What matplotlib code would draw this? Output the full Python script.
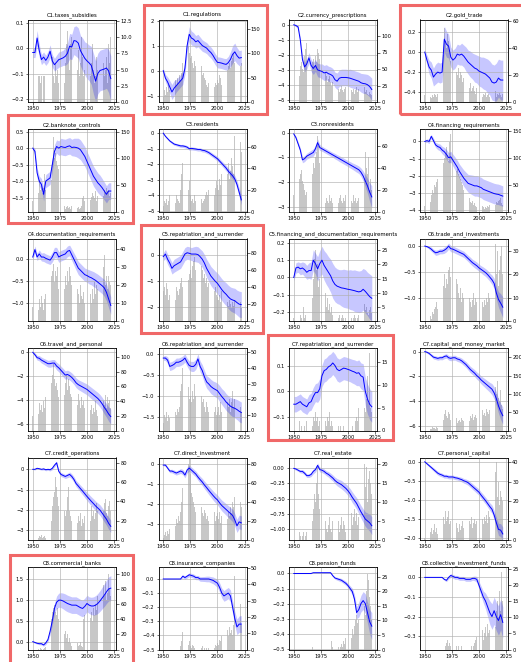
import numpy as np
import matplotlib
matplotlib.use("Agg")
import matplotlib.pyplot as plt
from matplotlib.patches import Rectangle

TITLES = ["C1.taxes_subsidies", "C1.regulations", "C2.currency_prescriptions", "C2.gold_trade",
          "C2.banknote_controls", "C3.residents", "C3.nonresidents", "C4.financing_requirements",
          "C4.documentation_requirements", "C5.repatriation_and_surrender",
          "C5.financing_and_documentation_requirements", "C6.trade_and_investments",
          "C6.travel_and_personal", "C6.repatriation_and_surrender", "C7.repatriation_and_surrender",
          "C7.capital_and_money_market", "C7.credit_operations", "C7.direct_investment",
          "C7.real_estate", "C7.personal_capital", "C8.commercial_banks", "C8.insurance_companies",
          "C8.pension_funds", "C8.collective_investment_funds"]

LINE_START = 1950   # line estimates every 2 years
BAR_START = 1950    # bars yearly

LINE_01 = [-0.017,-0.017,0.04,-0.01,-0.045,-0.035,-0.048,-0.035,-0.012,-0.05,-0.065,-0.055,-0.045,-0.042,-0.038,-0.032,-0.02,0.008,0.005,0.03,0.028,0.02,-0.01,-0.025,-0.04,-0.05,-0.058,-0.068,-0.1,-0.13,-0.1,-0.088,-0.085,-0.082,-0.078,-0.09,-0.12]
BAND_01 = [0.02,0.02,0.03,0.025,0.02,0.02,0.02,0.022,0.025,0.025,0.025,0.028,0.03,0.03,0.03,0.035,0.04,0.05,0.05,0.055,0.06,0.06,0.06,0.065,0.065,0.07,0.07,0.075,0.08,0.08,0.08,0.08,0.08,0.08,0.08,0.085,0.09]
BARS_01 = [0,4.5,4.5,4,0,4,4,3,4,0, 4,4,0,3,4,4,4,0,7,4, 3,6,4,5,3,4,6,4,5,3, 6,9,11,8,5,9,10,6,8,11, 7,5,8,4,6,10,7,4,5,6, 5,3,8,4,6,9,5,3,4,7, 5,6,4,8,11,6,4,5,7,3, 9,6,10]

LINE_02 = [0.0,-0.3,-0.45,-0.65,-0.85,-0.7,-0.6,-0.5,-0.4,-0.3,0.1,1.0,1.45,1.3,1.25,1.15,1.2,1.1,1.0,0.95,0.9,0.8,0.72,0.6,0.45,0.33,0.32,0.3,0.27,0.25,0.32,0.45,0.65,0.75,0.6,0.5,0.52]
BAND_02 = [0.1,0.15,0.2,0.25,0.3,0.3,0.25,0.25,0.25,0.25,0.25,0.3,0.3,0.28,0.26,0.25,0.25,0.24,0.23,0.22,0.22,0.22,0.22,0.22,0.22,0.22,0.22,0.22,0.22,0.23,0.25,0.3,0.35,0.35,0.32,0.3,0.3]
BARS_02 = [10,25,15,30,20,35,25,15,30,40, 30,45,35,50,40,55,45,60,80,75, 90,130,140,115,100,90,95,80,70,85, 75,60,80,70,65,75,55,60,50,45, 35,30,40,25,30,35,20,30,40,35, 45,40,55,50,35,45,60,55,70,65, 75,80,70,85,90,100,80,75,85,70, 90,75,80]

LINE_03 = [0.0,-0.05,-0.15,-1.0,-2.3,-2.8,-2.6,-2.2,-2.7,-2.9,-2.7,-3.0,-3.05,-3.1,-3.2,-3.15,-3.25,-3.3,-3.4,-3.65,-3.75,-3.55,-3.5,-3.5,-3.5,-3.52,-3.55,-3.6,-3.65,-3.7,-3.75,-3.85,-3.9,-3.92,-3.98,-4.1,-4.3]
BAND_03 = [0.05,0.08,0.1,0.2,0.3,0.3,0.35,0.35,0.4,0.4,0.4,0.45,0.45,0.5,0.5,0.5,0.5,0.5,0.5,0.5,0.55,0.55,0.55,0.55,0.55,0.55,0.6,0.6,0.6,0.6,0.6,0.62,0.65,0.65,0.68,0.7,0.75]
BARS_03 = [0,2,3,5,8,40,55,60,50,45, 70,80,90,100,110,85,75,60,65,55, 70,60,80,75,65,50,45,40,35,45, 40,30,35,40,30,25,30,35,25,20, 25,20,15,20,25,18,15,20,22,18, 15,20,25,18,15,20,12,18,22,15, 20,25,18,15,20,22,15,18,12,10, 15,12,10]

LINE_04 = [0.0,-0.08,-0.15,-0.18,-0.25,-0.22,-0.2,-0.21,-0.2,0.13,0.08,0.06,-0.05,-0.08,-0.06,-0.02,-0.03,-0.02,-0.04,-0.07,-0.1,-0.12,-0.14,-0.16,-0.17,-0.19,-0.2,-0.21,-0.22,-0.24,-0.26,-0.3,-0.31,-0.3,-0.26,-0.28,-0.28]
BAND_04 = [0.03,0.05,0.07,0.08,0.09,0.1,0.1,0.1,0.1,0.13,0.13,0.12,0.1,0.1,0.1,0.1,0.1,0.11,0.11,0.12,0.12,0.13,0.13,0.14,0.14,0.15,0.15,0.16,0.16,0.17,0.17,0.18,0.18,0.19,0.19,0.2,0.2]
BARS_04 = [5,4,3,5,6,4,3,5,4,6, 5,4,6,5,8,10,20,35,55,45, 40,50,45,38,30,35,28,25,30,22, 20,25,18,22,20,15,18,12,15,10, 12,10,14,8,10,12,8,6,10,8, 6,5,8,4,6,5,7,4,5,6, 4,5,6,3,5,8,4,6,5,7, 5,4,6]

LINE_05 = [0.0,-0.1,-0.75,-1.0,-1.1,-1.4,-1.0,-0.95,-0.9,-0.5,-0.1,0.05,0.0,0.05,0.03,0.02,0.05,0.07,0.02,0.03,0.02,0.0,-0.05,-0.15,-0.25,-0.4,-0.55,-0.7,-0.85,-0.95,-1.05,-1.12,-1.2,-1.3,-1.4,-1.3,-1.3]
BAND_05 = [0.05,0.1,0.15,0.15,0.18,0.2,0.2,0.2,0.2,0.2,0.2,0.2,0.22,0.25,0.25,0.25,0.25,0.25,0.25,0.27,0.28,0.3,0.3,0.3,0.3,0.3,0.3,0.3,0.3,0.3,0.3,0.3,0.28,0.27,0.26,0.25,0.25]
BARS_05 = [20,15,30,45,25,35,60,40,50,35, 45,70,40,55,50,35,45,60,90,140, 100,110,95,85,80,15,10,8,12,10, 5,8,10,6,8,5,10,7,5,8, 10,6,8,5,7,10,25,30,20,35, 25,30,40,22,28,35,30,25,38,20, 30,25,35,28,22,30,40,35,45,38, 40,30,35]

LINE_06 = [0,-0.2,-0.35,-0.5,-0.6,-0.7,-0.74,-0.78,-0.82,-0.82,-0.85,-0.9,-1.0,-0.98,-1.0,-1.02,-1.05,-1.05,-1.1,-1.12,-1.18,-1.25,-1.35,-1.45,-1.55,-1.65,-1.8,-1.95,-2.1,-2.25,-2.45,-2.6,-2.75,-2.95,-3.3,-3.8,-4.3]
BAND_06 = [0.02,0.05,0.06,0.07,0.08,0.08,0.08,0.09,0.09,0.1,0.1,0.1,0.1,0.1,0.1,0.1,0.1,0.1,0.11,0.11,0.12,0.12,0.13,0.13,0.14,0.15,0.15,0.16,0.17,0.18,0.19,0.2,0.2,0.22,0.25,0.28,0.32]
BARS_06 = [5,10,8,12,6,10,15,8,12,6, 10,8,15,12,10,8,20,35,45,30, 25,40,30,20,28,15,10,12,8,15, 10,12,8,10,15,12,8,10,12,15, 18,15,20,22,18,25,20,15,22,28, 25,20,30,25,35,28,40,25,30,35, 45,30,38,50,42,35,70,55,60,72, 75,65,55]

LINE_07 = [-0.05,-0.2,-0.45,-0.7,-1.1,-1.05,-0.95,-0.9,-0.85,-0.8,-0.65,-0.4,-0.6,-0.65,-0.7,-0.75,-0.8,-0.85,-0.9,-0.95,-1.0,-1.05,-1.1,-1.15,-1.2,-1.25,-1.3,-1.35,-1.4,-1.45,-1.5,-1.6,-1.75,-1.95,-2.15,-2.4,-2.6]
BAND_07 = [0.04,0.06,0.08,0.1,0.12,0.12,0.12,0.13,0.14,0.15,0.15,0.15,0.12,0.1,0.1,0.1,0.1,0.1,0.1,0.11,0.11,0.12,0.12,0.12,0.12,0.12,0.13,0.13,0.14,0.15,0.15,0.17,0.2,0.25,0.3,0.38,0.45]
BARS_07 = [15,20,25,18,22,30,35,38,28,25, 20,15,18,12,15,20,25,35,45,40, 50,55,70,60,45,25,15,12,10,8, 12,10,8,15,10,12,8,10,20,12, 10,8,12,15,10,8,12,10,15,12, 10,8,12,10,8,15,10,12,8,10, 12,15,25,35,45,30,55,40,35,50, 20,30,20]

LINE_08 = [0.0,0.05,0.0,0.3,0.05,-0.2,-0.3,-0.35,-0.5,-0.6,-0.75,-0.95,-0.9,-1.1,-1.3,-1.5,-1.75,-1.95,-2.15,-2.3,-2.45,-2.5,-2.55,-2.6,-2.6,-2.65,-2.7,-2.8,-2.85,-2.9,-2.95,-3.0,-3.05,-3.08,-3.1,-3.15,-3.2]
BAND_08 = [0.08,0.1,0.12,0.12,0.15,0.15,0.18,0.2,0.22,0.25,0.28,0.3,0.32,0.35,0.38,0.4,0.42,0.45,0.48,0.5,0.52,0.55,0.58,0.6,0.6,0.6,0.6,0.6,0.6,0.6,0.6,0.6,0.6,0.6,0.6,0.6,0.6]
BARS_08 = [10,15,20,12,25,18,30,40,35,50, 45,55,60,50,65,70,80,90,100,110, 120,105,95,130,145,110,95,85,90,75, 80,70,65,60,55,50,40,35,30,25, 20,25,18,15,20,12,15,10,8,12, 10,8,6,10,8,5,8,6,10,8, 12,10,8,15,10,12,18,15,20,22, 25,15,12]

LINE_09 = [0.05,0.22,0.05,0.12,0.05,0.05,0.02,0.0,-0.02,0.05,0.15,0.15,0.05,0.08,0.1,0.12,0.18,0.2,0.1,0.0,-0.1,-0.2,-0.25,-0.3,-0.35,-0.37,-0.4,-0.42,-0.45,-0.48,-0.52,-0.56,-0.6,-0.65,-0.75,-0.9,-1.05]
BAND_09 = [0.06,0.08,0.08,0.09,0.09,0.1,0.1,0.1,0.1,0.11,0.12,0.12,0.12,0.12,0.12,0.12,0.12,0.12,0.13,0.14,0.15,0.15,0.15,0.15,0.15,0.15,0.16,0.16,0.17,0.17,0.18,0.18,0.18,0.19,0.19,0.2,0.2]
BARS_09 = [8,12,5,15,10,6,12,8,14,10, 6,12,15,8,10,14,20,25,28,32, 22,28,25,30,18,25,20,15,22,18, 25,20,28,22,30,25,20,18,22,15, 12,18,15,10,20,14,12,16,10,18, 14,12,20,15,10,18,12,22,15,20, 18,12,25,20,15,30,37,20,25,18, 25,22,20]

LINE_10 = [-0.05,0.05,-0.15,-0.3,-0.5,-0.4,-0.35,-0.3,-0.25,-0.1,0.05,0.1,0.08,0.05,0.05,0.05,0.03,-0.05,-0.15,-0.3,-0.5,-0.65,-0.8,-0.9,-1.0,-1.08,-1.2,-1.32,-1.42,-1.5,-1.6,-1.68,-1.72,-1.75,-1.82,-1.88,-1.9]
BAND_10 = [0.15,0.18,0.2,0.2,0.22,0.25,0.25,0.25,0.25,0.25,0.25,0.25,0.25,0.25,0.28,0.3,0.3,0.3,0.32,0.33,0.35,0.36,0.37,0.38,0.39,0.4,0.41,0.42,0.43,0.44,0.45,0.46,0.47,0.48,0.48,0.5,0.5]
BARS_10 = [35,40,30,45,38,25,30,20,35,28, 30,25,40,35,30,38,45,50,40,55, 45,50,40,48,55,60,50,65,70,75, 60,70,80,85,75,65,60,50,55,45, 50,40,45,35,40,38,30,35,40,30, 28,25,30,22,35,25,20,28,25,22, 18,25,20,15,22,18,25,12,20,15, 18,22,15]

LINE_11 = [0.0,0.055,0.06,0.05,0.055,0.045,0.03,0.04,0.04,0.1,0.08,0.05,0.08,0.1,0.07,0.05,0.03,0.01,-0.02,-0.04,-0.05,-0.055,-0.06,-0.062,-0.065,-0.068,-0.07,-0.073,-0.076,-0.08,-0.083,-0.08,-0.068,-0.08,-0.095,-0.11,-0.12]
BAND_11 = [0.02,0.03,0.03,0.035,0.035,0.04,0.04,0.045,0.05,0.06,0.06,0.07,0.075,0.08,0.085,0.09,0.09,0.095,0.1,0.1,0.1,0.1,0.105,0.11,0.11,0.11,0.115,0.115,0.12,0.12,0.12,0.12,0.12,0.125,0.125,0.13,0.13]
BARS_11 = [1,0,2,1,3,0,2,1,0,5, 1,2,0,3,1,2,4,8,15,22, 25,18,20,12,15,10,8,12,6,10, 5,8,4,6,3,5,2,4,1,3, 2,1,2,0,1,2,1,0,1,2, 1,0,2,1,0,1,2,1,0,1, 2,3,4,3,5,6,4,5,3,2, 4,5,3]

LINE_12 = [0.0,-0.01,-0.03,-0.06,-0.1,-0.13,-0.12,-0.1,-0.1,-0.08,-0.05,0.0,-0.05,-0.06,-0.08,-0.1,-0.12,-0.14,-0.16,-0.2,-0.24,-0.28,-0.32,-0.35,-0.38,-0.42,-0.45,-0.48,-0.51,-0.55,-0.6,-0.65,-0.72,-0.9,-1.03,-1.1,-1.18]
BAND_12 = [0.01,0.02,0.03,0.04,0.04,0.05,0.05,0.05,0.05,0.06,0.06,0.06,0.06,0.06,0.06,0.06,0.06,0.06,0.06,0.06,0.06,0.065,0.065,0.07,0.07,0.07,0.07,0.075,0.075,0.08,0.08,0.09,0.1,0.12,0.15,0.18,0.2]
BARS_12 = [0,1,2,1,3,2,1,4,3,5, 6,8,5,10,7,9,12,15,20,14, 18,16,22,23,19,12,15,10,14,18, 16,12,10,14,8,12,10,8,11,9, 7,10,8,6,9,12,7,10,8,6, 9,7,10,8,6,9,7,10,8,12, 10,15,12,18,25,33,20,30,15,22, 28,32,20]

LINE_13 = [0.0,-0.2,-0.45,-0.5,-0.65,-0.75,-0.85,-0.95,-0.95,-0.9,-0.9,-1.15,-1.3,-1.5,-1.7,-1.9,-1.85,-1.95,-2.1,-2.3,-2.55,-2.7,-2.8,-2.9,-3.0,-3.1,-3.25,-3.4,-3.55,-3.7,-3.85,-4.05,-4.3,-4.6,-4.85,-5.15,-5.37]
BAND_13 = [0.1,0.15,0.2,0.22,0.25,0.25,0.27,0.28,0.3,0.3,0.3,0.32,0.33,0.34,0.35,0.35,0.36,0.37,0.38,0.39,0.4,0.41,0.42,0.43,0.44,0.45,0.46,0.47,0.48,0.49,0.5,0.52,0.54,0.55,0.57,0.6,0.62]
BARS_13 = [20,35,25,40,30,22,38,28,35,25, 40,30,45,35,50,38,55,65,75,90, 70,60,65,55,45,60,50,40,55,48, 65,75,55,70,60,50,45,55,40,50, 45,35,50,40,30,45,35,40,30,35, 25,30,38,28,35,22,30,25,40,28, 20,35,25,30,45,40,35,48,30,45, 38,42,30]

LINE_14 = [-0.1,-0.1,-0.15,-0.3,-0.28,-0.25,-0.2,-0.2,-0.18,-0.15,-0.1,-0.2,-0.28,-0.3,-0.3,-0.25,-0.12,-0.3,-0.4,-0.55,-0.67,-0.72,-0.78,-0.82,-0.85,-0.88,-0.95,-1.02,-1.08,-1.15,-1.2,-1.25,-1.28,-1.3,-1.33,-1.37,-1.4]
BAND_14 = [0.05,0.06,0.08,0.1,0.1,0.1,0.1,0.1,0.1,0.1,0.1,0.1,0.11,0.12,0.12,0.12,0.12,0.13,0.14,0.15,0.15,0.16,0.17,0.17,0.18,0.18,0.19,0.19,0.2,0.2,0.2,0.21,0.22,0.23,0.24,0.25,0.25]
BARS_14 = [5,10,8,12,6,10,8,12,15,10, 8,12,10,14,12,15,25,30,40,50, 35,30,25,28,20,22,18,25,20,30, 22,18,25,20,15,22,18,20,15,12, 18,15,12,20,15,10,18,12,15,10, 12,15,10,18,12,20,15,12,22,18, 15,20,12,18,25,15,20,22,18,15, 20,15,12]

LINE_15 = [-0.05,-0.05,-0.045,-0.04,-0.05,-0.055,-0.06,-0.045,-0.04,-0.02,-0.005,-0.005,0.01,0.06,0.08,0.085,0.095,0.1,0.11,0.1,0.085,0.08,0.085,0.09,0.088,0.085,0.082,0.078,0.075,0.07,0.072,0.06,0.055,0.0,-0.03,-0.05,-0.06]
BAND_15 = [0.03,0.03,0.03,0.03,0.03,0.03,0.03,0.032,0.033,0.035,0.035,0.038,0.04,0.042,0.045,0.045,0.045,0.045,0.045,0.045,0.045,0.045,0.045,0.045,0.045,0.045,0.045,0.046,0.047,0.048,0.05,0.05,0.052,0.055,0.058,0.06,0.06]
BARS_15 = [0,0,1,0,0,2,0,1,0,0, 1,0,2,1,2,0,2,1,3,2, 4,2,3,1,2,3,2,5,3,2, 1,3,2,4,1,2,1,0,1,2, 0,1,0,1,0,0,1,0,0,1, 0,0,1,0,1,0,0,2,3,2, 5,4,6,3,8,5,4,7,12,6, 17,5,4]

LINE_16 = [0.0,-0.05,-0.15,-0.3,-0.45,-0.5,-0.55,-0.5,-0.5,-0.4,-0.35,-0.5,-0.55,-0.5,-0.5,-0.6,-0.65,-0.75,-0.9,-1.05,-1.25,-1.45,-1.6,-1.75,-1.95,-2.1,-2.3,-2.45,-2.6,-2.75,-2.9,-3.05,-3.35,-3.8,-4.4,-4.85,-5.2]
BAND_16 = [0.05,0.08,0.1,0.12,0.15,0.15,0.15,0.16,0.17,0.18,0.18,0.19,0.2,0.2,0.2,0.2,0.21,0.22,0.23,0.24,0.25,0.26,0.27,0.28,0.29,0.3,0.32,0.34,0.36,0.38,0.4,0.45,0.5,0.55,0.6,0.65,0.7]
BARS_16 = [0,2,5,3,8,5,4,10,6,8, 5,10,8,12,10,15,20,30,45,55, 40,35,50,45,30,25,20,30,25,35, 20,25,30,22,35,28,25,30,40,35, 30,25,40,35,45,30,38,42,35,50, 40,45,35,55,42,48,40,60,50,45, 55,60,70,130,140,120,100,135,90,80, 110,70,60]

LINE_17 = [0.0,0.0,0.05,0.03,0.0,0.02,-0.02,0.0,-0.02,0.05,0.2,0.32,-0.1,-0.25,-0.3,-0.35,-0.3,-0.25,-0.35,-0.5,-0.7,-0.82,-0.95,-1.07,-1.2,-1.33,-1.45,-1.57,-1.68,-1.8,-1.9,-2.0,-2.15,-2.3,-2.45,-2.65,-2.8]
BAND_17 = [0.02,0.03,0.03,0.04,0.04,0.05,0.05,0.05,0.06,0.07,0.08,0.08,0.09,0.1,0.1,0.1,0.11,0.12,0.13,0.14,0.15,0.16,0.17,0.18,0.19,0.2,0.21,0.22,0.23,0.24,0.25,0.26,0.27,0.28,0.29,0.3,0.3]
BARS_17 = [0,2,0,10,3,2,4,3,5,2, 3,4,2,5,3,4,10,20,35,45, 50,65,55,45,35,30,40,25,35,30, 25,30,45,55,30,25,20,30,25,28, 22,18,25,20,28,15,22,18,25,20, 30,25,28,20,35,25,30,22,28,38, 30,35,25,45,40,30,38,42,28,25, 35,40,30]

LINE_18 = [-0.05,-0.05,-0.2,-0.35,-0.35,-0.4,-0.45,-0.4,-0.35,-0.4,-0.55,-0.3,-0.2,-0.3,-0.4,-0.5,-0.65,-0.78,-0.9,-1.05,-1.18,-1.32,-1.45,-1.58,-1.7,-1.8,-1.95,-2.08,-2.18,-2.28,-2.38,-2.48,-2.58,-2.8,-3.1,-2.9,-2.95]
BAND_18 = [0.04,0.05,0.07,0.08,0.09,0.1,0.1,0.11,0.12,0.13,0.14,0.15,0.15,0.15,0.15,0.15,0.16,0.17,0.18,0.19,0.2,0.21,0.22,0.23,0.24,0.25,0.26,0.27,0.28,0.29,0.3,0.3,0.31,0.32,0.33,0.34,0.35]
BARS_18 = [2,5,8,4,10,6,12,15,10,18, 20,15,22,18,25,20,30,40,55,60, 70,65,75,80,85,70,50,45,40,35, 30,35,25,40,30,35,28,25,32,28, 22,25,20,28,18,25,22,30,20,25, 28,22,30,18,25,35,20,28,25,22, 30,25,35,28,40,35,45,50,40,80, 20,40,35]

LINE_19 = [0.0,-0.01,-0.03,-0.05,-0.05,-0.08,-0.12,-0.12,-0.1,-0.05,-0.02,0.05,-0.02,-0.03,-0.05,-0.08,-0.1,-0.13,-0.16,-0.2,-0.23,-0.25,-0.27,-0.3,-0.33,-0.37,-0.42,-0.48,-0.53,-0.58,-0.65,-0.72,-0.78,-0.84,-0.87,-0.9,-0.95]
BAND_19 = [0.015,0.02,0.02,0.025,0.03,0.03,0.03,0.03,0.035,0.04,0.04,0.04,0.04,0.04,0.04,0.04,0.045,0.05,0.05,0.055,0.06,0.065,0.07,0.07,0.075,0.08,0.085,0.09,0.09,0.095,0.1,0.105,0.11,0.12,0.13,0.14,0.15]
BARS_19 = [0,1,0,1,0,2,1,0,1,2, 0,1,2,8,1,2,3,5,8,12, 10,15,19,12,8,5,3,4,2,5, 3,2,4,6,3,2,5,3,4,2, 3,5,2,4,6,3,5,4,2,6, 4,3,5,7,4,6,8,5,7,4, 6,8,5,12,15,20,14,19,10,16, 18,15,12]

LINE_20 = [0.0,-0.05,-0.1,-0.15,-0.2,-0.25,-0.3,-0.33,-0.35,-0.38,-0.38,-0.4,-0.4,-0.4,-0.42,-0.43,-0.45,-0.47,-0.5,-0.52,-0.55,-0.6,-0.65,-0.7,-0.75,-0.8,-0.88,-0.95,-1.02,-1.1,-1.18,-1.25,-1.4,-1.6,-1.78,-1.8,-1.9]
BAND_20 = [0.02,0.03,0.035,0.04,0.045,0.05,0.05,0.05,0.05,0.05,0.05,0.05,0.05,0.05,0.05,0.05,0.055,0.06,0.06,0.065,0.07,0.07,0.075,0.075,0.08,0.08,0.085,0.09,0.09,0.095,0.1,0.11,0.12,0.14,0.16,0.17,0.18]
BARS_20 = [1,3,2,5,3,4,6,3,5,8, 4,6,3,7,5,8,10,12,8,15, 10,12,15,8,10,6,8,5,7,9, 6,4,8,5,7,10,6,8,5,9, 7,10,8,12,6,9,11,8,10,7, 12,14,9,11,8,12,10,13,9,15, 12,10,14,18,25,35,40,22,30,18, 25,22,20]

LINE_21 = [0.0,-0.02,-0.04,-0.05,-0.05,-0.08,-0.03,0.05,0.25,0.5,0.8,0.95,1.0,1.0,0.98,0.95,0.92,0.9,0.88,0.88,0.88,0.85,0.82,0.8,0.85,0.92,0.88,0.86,0.86,0.88,0.92,0.98,1.05,1.12,1.2,1.27,1.29]
BAND_21 = [0.02,0.02,0.02,0.025,0.03,0.03,0.04,0.05,0.08,0.1,0.12,0.15,0.17,0.18,0.19,0.2,0.2,0.2,0.2,0.2,0.2,0.2,0.2,0.2,0.2,0.2,0.2,0.21,0.22,0.23,0.24,0.25,0.26,0.27,0.28,0.29,0.3]
BARS_21 = [0,1,0,2,0,1,0,2,1,0, 1,2,3,10,15,20,30,40,50,55, 58,50,45,55,40,35,30,25,35,20, 25,15,20,10,15,8,5,10,6,8, 5,8,4,6,10,5,3,40,45,50, 35,55,48,42,50,38,55,45,60,52, 70,65,95,80,75,85,70,90,65,75, 100,80,70]

LINE_22 = [0,0,0,0,0,0,0,0,0,0.02,0.01,0.02,0.03,0.025,0.02,0.01,0.01,0.0,0.0,0.0,0.0,0.0,-0.005,-0.01,-0.02,-0.03,-0.06,-0.1,-0.12,-0.11,-0.1,-0.12,-0.2,-0.28,-0.34,-0.32,-0.32]
BAND_22 = [0.002,0.002,0.002,0.002,0.002,0.002,0.002,0.002,0.003,0.01,0.012,0.013,0.014,0.015,0.015,0.015,0.015,0.016,0.017,0.018,0.02,0.02,0.022,0.024,0.026,0.03,0.032,0.035,0.038,0.04,0.04,0.042,0.045,0.05,0.055,0.058,0.06]
BARS_22 = [0,0,0,0,0,0,0,0,0,0, 0,0,0,0,0,0,2,5,11,8, 6,4,7,3,5,2,1,3,2,1, 0,1,2,1,0,1,2,0,1,0, 1,0,1,2,1,0,2,1,3,2, 4,3,6,5,8,4,7,10,6,12, 8,14,10,12,9,15,45,12,25,30, 20,28,15]

LINE_23 = [0,0,0,0,0,0,0,0,0,0.005,0.005,0.005,0.005,0.005,0.005,0.005,0.005,0.005,-0.015,-0.03,-0.035,-0.04,-0.045,-0.055,-0.065,-0.08,-0.1,-0.12,-0.17,-0.26,-0.24,-0.2,-0.18,-0.2,-0.26,-0.32,-0.35]
BAND_23 = [0.001,0.001,0.001,0.001,0.001,0.001,0.001,0.001,0.001,0.002,0.003,0.003,0.003,0.003,0.004,0.004,0.004,0.005,0.006,0.008,0.01,0.011,0.012,0.013,0.014,0.015,0.018,0.022,0.03,0.04,0.05,0.055,0.06,0.065,0.07,0.08,0.09]
BARS_23 = [0,0,0,0,0,0,0,0,0,0, 0,0,0,0,0,0,0,1,0,0, 0,0,0,0,0,0,0,0,0,0, 0,0,0,0,0,3,1,2,0,1, 2,1,0,1,2,1,3,2,4,3, 5,6,8,4,7,5,8,10,12,9, 10,12,8,14,10,15,12,20,26,24, 18,15,10]

LINE_24 = [0,0,0,0,0,0,0,0,0,-0.01,-0.015,0.0,0.01,0.005,0.0,0.0,-0.005,-0.005,-0.005,-0.01,-0.01,-0.01,-0.005,-0.005,-0.01,-0.04,-0.07,-0.1,-0.12,-0.15,-0.18,-0.2,-0.17,-0.2,-0.22,-0.19,-0.23]
BAND_24 = [0.001,0.001,0.001,0.001,0.001,0.001,0.001,0.001,0.002,0.005,0.007,0.008,0.01,0.01,0.01,0.01,0.01,0.01,0.01,0.01,0.01,0.01,0.01,0.012,0.015,0.02,0.025,0.03,0.04,0.05,0.06,0.065,0.07,0.072,0.075,0.078,0.08]
BARS_24 = [0,0,0,0,0,0,0,0,0,0, 0,0,0,0,0,0,0,0,0,1, 2,3,1,2,1,0,1,0,0,1, 0,1,0,0,1,0,0,1,0,0, 1,0,0,1,0,1,2,3,4,2, 3,5,4,6,3,5,7,4,8,5, 6,8,5,9,10,7,12,15,10,18, 12,24,15]

LINES = [LINE_01, LINE_02, LINE_03, LINE_04, LINE_05, LINE_06, LINE_07, LINE_08, LINE_09, LINE_10,
         LINE_11, LINE_12, LINE_13, LINE_14, LINE_15, LINE_16, LINE_17, LINE_18, LINE_19, LINE_20,
         LINE_21, LINE_22, LINE_23, LINE_24]
BANDS = [BAND_01, BAND_02, BAND_03, BAND_04, BAND_05, BAND_06, BAND_07, BAND_08, BAND_09, BAND_10,
         BAND_11, BAND_12, BAND_13, BAND_14, BAND_15, BAND_16, BAND_17, BAND_18, BAND_19, BAND_20,
         BAND_21, BAND_22, BAND_23, BAND_24]
BARS = [BARS_01, BARS_02, BARS_03, BARS_04, BARS_05, BARS_06, BARS_07, BARS_08, BARS_09, BARS_10,
        BARS_11, BARS_12, BARS_13, BARS_14, BARS_15, BARS_16, BARS_17, BARS_18, BARS_19, BARS_20,
        BARS_21, BARS_22, BARS_23, BARS_24]

LEFT_TICKS = [[-0.2,-0.1,0,0.1],[-1,0,1,2],[-5,-4,-3,-2,-1,0],[-0.4,-0.2,0,0.2],
              [-1.5,-1,-0.5,0,0.5],[-5,-4,-3,-2,-1,0],[-3,-2,-1,0],[-4,-3,-2,-1,0],
              [-1,-0.5,0],[-2,-1,0],[-0.2,-0.1,0,0.1,0.2],[-1,-0.5,0],
              [-6,-4,-2,0],[-1.5,-1,-0.5,0],[-0.1,0,0.1],[-6,-4,-2,0],
              [-3,-2,-1,0],[-3,-2,-1,0],[-1,-0.75,-0.5,-0.25,0],[-2,-1.5,-1,-0.5,0],
              [0,0.5,1,1.5],[-0.5,-0.4,-0.3,-0.2,-0.1,0],[-0.5,-0.4,-0.3,-0.2,-0.1,0],[-0.3,-0.2,-0.1,0]]
RIGHT_TICKS = [[0,2.5,5,7.5,10,12.5],[0,50,100,150],[0,25,50,75,100],[0,20,40,60],
               [0,50,100,150],[0,20,40,60],[0,20,40,60],[0,50,100,150],
               [0,10,20,30,40],[0,20,40,60,80],[0,5,10,15,20,25],[0,10,20,30],
               [0,20,40,60,80,100],[0,10,20,30,40,50],[0,5,10,15],[0,50,100,150,200],
               [0,20,40,60,80],[0,20,40,60,80],[0,5,10,15,20],[0,10,20,30,40],
               [0,20,40,60,80,100],[0,10,20,30,40,50],[0,5,10,15,20,25],[0,5,10,15,20,25]]
X_TICKS = [1950, 1975, 2000, 2025]

# axis ranges (layout)
LEFT_LIMS = [(-0.212,0.113),(-1.25,2.04),(-5.13,0.35),(-0.5,0.327),(-1.92,0.58),(-5.05,0.27),
             (-3.19,0.15),(-4.1,0.73),(-1.4,0.47),(-2.53,0.65),(-0.251,0.225),(-1.446,0.146),
             (-6.53,0.36),(-1.83,0.14),(-0.152,0.168),(-6.4,0.29),(-3.47,0.58),(-3.81,0.33),
             (-1.186,0.18),(-2.06,0.113),(-0.19,1.8),(-0.5,0.085),(-0.505,0.043),(-0.368,0.053)]
RIGHT_LIMS = [12.7,170,125,61,155,76.7,76,154,46,97,29.2,35.3,112,52.7,18.1,225,85.5,87,21.6,42.5,108.6,50.6,28.3,25.5]
HIGHLIGHT = [(0,1),(0,3),(1,0),(2,1),(3,2),(5,0)]
BOXES = {(0,1):(144,5,267,114),(0,3):(400,5,526,114),(1,0):(8,115,133,223),
         (2,1):(141,225,263,333),(3,2):(268,335,393,440),(5,0):(10,555,133,668)}

W, H = 521, 662
fig = plt.figure(figsize=(W/100, H/100), dpi=100)
plt.rcParams['font.family'] = ['DejaVu Sans']

COL_L = [28, 158.5, 289, 420]
AX_W = 88
ROW_T0, ROW_P, AX_H = 19.5, 109.5, 82.5
FS = 3.7

for k in range(24):
    r, c = divmod(k, 4)
    l = COL_L[c]; t = ROW_T0 + ROW_P*r
    ax = fig.add_axes([l/W, 1-(t+AX_H)/H, AX_W/W, AX_H/H])
    ax2 = ax.twinx()
    yb = BAR_START + np.arange(len(BARS[k]))
    ax2.bar(yb, BARS[k], width=0.6, color='#9a9a9a', alpha=0.55, linewidth=0)
    yl = LINE_START + 2*np.arange(len(LINES[k]))
    m = np.array(LINES[k]); hw = np.array(BANDS[k])
    ax.fill_between(yl, m-hw, m+hw, color='blue', alpha=0.22, linewidth=0)
    ax.plot(yl, m, color='blue', lw=0.7)
    ax.set_zorder(ax2.get_zorder()+1)
    ax.patch.set_visible(False)
    ax.set_xlim(1945.6, 2026.8)
    ax.set_xticks(X_TICKS)
    ax.set_ylim(*LEFT_LIMS[k])
    ax.set_yticks(LEFT_TICKS[k])
    ax2.set_ylim(0, RIGHT_LIMS[k])
    ax2.set_yticks(RIGHT_TICKS[k])
    ax.grid(True, color='#b0b0b0', lw=0.45)
    for a in (ax, ax2):
        a.tick_params(labelsize=FS, length=1.8, width=0.4, pad=1.2)
        for s in a.spines.values():
            s.set_linewidth(0.45)
    ax.set_title(TITLES[k], fontsize=3.9, pad=2.2)

for (r, c) in HIGHLIGHT:
    x0, y0, x1, y1 = BOXES[(r, c)]
    fig.patches.append(Rectangle((x0/W, 1-y1/H), (x1-x0)/W, (y1-y0)/H, transform=fig.transFigure,
                                 fill=False, edgecolor='#f06868', linewidth=2.2, zorder=10))

fig.savefig('out.png', dpi=100)
